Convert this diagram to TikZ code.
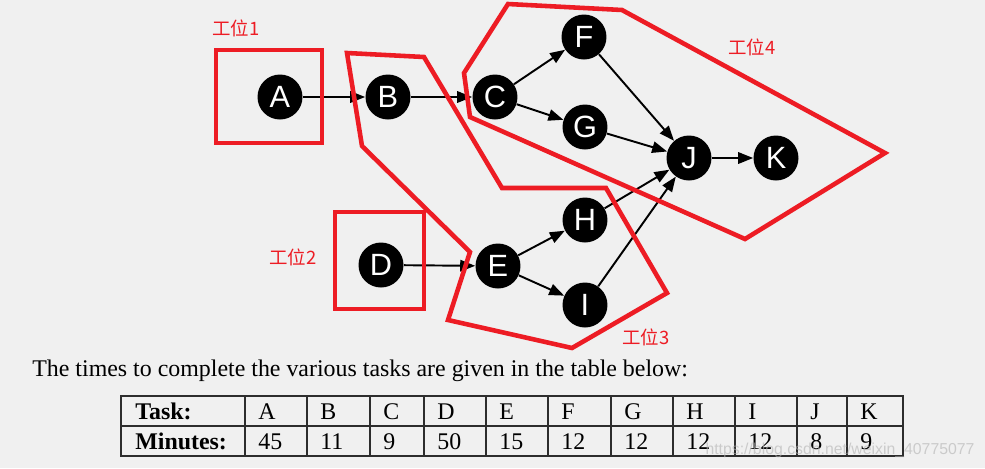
\documentclass[tikz,border=0pt]{standalone}
\usepackage{fontspec}
\setmainfont{Liberation Serif}
\setsansfont{Liberation Sans}
\newfontfamily\cjk{Noto Sans CJK SC}
\usepackage{tikz}
\usetikzlibrary{arrows.meta}
\definecolor{paper}{RGB}{240,240,240}
\definecolor{mark}{RGB}{237,28,36}
\definecolor{rule}{RGB}{45,45,45}

\begin{document}
\begin{tikzpicture}[x=0.02cm, y=-0.02cm,
  task/.style={circle, fill=black, text=white, minimum size=0.9cm, inner sep=0pt,
               font=\sffamily\fontsize{17.5}{18}\selectfont},
  flow/.style={-{Triangle[length=8.5pt, width=6.5pt]}, line width=1.1pt},
  zone/.style={draw=mark, line width=2.6pt},
  zonelabel/.style={text=mark, font=\cjk\fontsize{10.5}{12}\selectfont, inner sep=0pt},
  grid/.style={draw=rule, line width=1.2pt},
  cell/.style={anchor=base west, inner sep=0pt, font=\fontsize{13.6}{15}\selectfont},
]
  % Background
  \fill[paper] (0,0) rectangle (985,468);
  \useasboundingbox (0,0) rectangle (985,468);

  % Tasks
  \node[task] (A) at (280,97) {A};
  \node[task] (B) at (388,97) {B};
  \node[task] (C) at (495,97) {C};
  \node[task] (F) at (584,37) {F};
  \node[task] (G) at (585,127) {G};
  \node[task] (J) at (689,158) {J};
  \node[task] (K) at (776,158) {K};
  \node[task] (D) at (381,265) {D};
  \node[task] (E) at (498,266) {E};
  \node[task] (H) at (585,220) {H};
  \node[task] (I) at (585,305) {I};

  % Precedence
  \foreach \from/\to in {A/B, B/C, C/F, C/G, F/J, G/J, H/J, I/J, J/K, D/E, E/H, E/I} {
    \draw[flow] (\from) -- (\to);
  }

  % Stations
  \draw[zone] (216,50) rectangle (322,143);
  \draw[zone] (335,212) rectangle (424,309);
  \draw[zone] (347,53) -- (424,57) -- (502,188) -- (606,188) -- (667,293)
    -- (572,348) -- (448,320) -- (470,252) -- (362,146) -- cycle;
  \draw[zone] (508,4) -- (622,10) -- (885,153) -- (745,239) -- (470,117)
    -- (464,73) -- cycle;

  \node[zonelabel] (s1) at (236,28) {工位1};
  \node[zonelabel] (s2) at (293,257) {工位2};
  \node[zonelabel] (s3) at (646,337) {工位3};
  \node[zonelabel] (s4) at (752,47) {工位4};

  % Caption and table
  \node[cell] (cap) at (32,376) {The times to complete the various tasks are given in the table below:};

  \draw[grid] (121,396) rectangle (903,456);
  \draw[grid] (121,426) -- (903,426);
  \foreach \cx in {245,307,370,424,486,548,611,673,735,797,847} {
    \draw[grid] (\cx,396) -- (\cx,456);
  }
  \node[cell, font=\bfseries\fontsize{13.6}{15}\selectfont] (head) at (135,419) {Task:};
  \node[cell, font=\bfseries\fontsize{13.6}{15}\selectfont] (mins) at (135,449) {Minutes:};
  \foreach \cx/\name/\val in {245/A/45, 307/B/11, 370/C/9, 424/D/50, 486/E/15,
      548/F/12, 611/G/12, 673/H/12, 735/I/12, 797/J/8, 847/K/9} {
    \node[cell] (t-\name) at (\cx+13,419) {\name};
    \node[cell] (m-\name) at (\cx+13,449) {\val};
  }

  % Watermark
  \node[font=\sffamily\fontsize{9}{10}\selectfont, text=black!30, opacity=0.6] (wm) at (840,450)
    {https://blog.csdn.net/weixin\_40775077};
\end{tikzpicture}
\end{document}
